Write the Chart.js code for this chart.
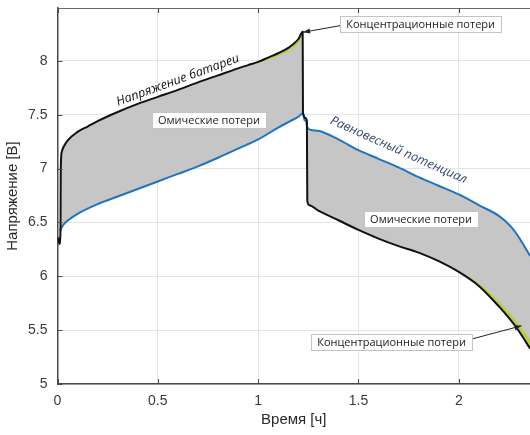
<!DOCTYPE html>
<html>
<head>
<meta charset="utf-8">
<script src="https://cdn.jsdelivr.net/npm/chart.js@4.4.1/dist/chart.umd.min.js"></script>
<style>
  html, body { margin: 0; padding: 0; background: #ffffff; }
  #wrap { width: 530px; height: 435px; position: relative; }
</style>
</head>
<body>
<div id="wrap"><canvas id="c"></canvas></div>
<script>
// ---- Data ----
const xTickValues = [0, 0.5, 1, 1.5, 2];
const yTickValues = [5, 5.5, 6, 6.5, 7, 7.5, 8];

// Battery voltage (black)
const timeBatt = [0.004, 0.008, 0.011, 0.013, 0.015, 0.016, 0.018, 0.022, 0.03, 0.05, 0.1, 0.15, 0.2, 0.3, 0.4, 0.5, 0.6, 0.7, 0.8, 0.9, 0.95, 1.0, 1.05, 1.1, 1.15, 1.2, 1.222, 1.2235, 1.236, 1.243, 1.245, 1.255, 1.3, 1.4, 1.5, 1.6, 1.7, 1.8, 1.9, 2.0, 2.1, 2.2, 2.26, 2.3, 2.355];
const voltBatt = [6.36, 6.31, 6.30, 6.34, 6.45, 6.90, 7.10, 7.16, 7.20, 7.26, 7.34, 7.39, 7.44, 7.525, 7.60, 7.665, 7.73, 7.80, 7.865, 7.93, 7.96, 7.99, 8.03, 8.07, 8.12, 8.20, 8.27, 7.52, 7.47, 7.44, 6.70, 6.66, 6.61, 6.52, 6.43, 6.35, 6.28, 6.22, 6.14, 6.04, 5.91, 5.72, 5.59, 5.49, 5.33];

// Equilibrium potential (blue)
const timeEq = [0.0125, 0.02, 0.03, 0.06, 0.1, 0.2, 0.3, 0.4, 0.5, 0.6, 0.7, 0.8, 0.9, 1.0, 1.1, 1.16, 1.2, 1.222, 1.226, 1.231, 1.24, 1.244, 1.26, 1.3, 1.4, 1.5, 1.6, 1.7, 1.8, 1.9, 2.0, 2.1, 2.2, 2.26, 2.3, 2.355];
const voltEq = [6.42, 6.45, 6.48, 6.53, 6.58, 6.67, 6.74, 6.81, 6.88, 6.95, 7.02, 7.10, 7.185, 7.27, 7.38, 7.44, 7.48, 7.51, 7.50, 7.45, 7.44, 7.39, 7.36, 7.35, 7.27, 7.17, 7.09, 7.01, 6.92, 6.84, 6.76, 6.66, 6.56, 6.46, 6.36, 6.19];

// Concentration-loss boundaries (green bands next to the battery voltage)
const timeConcCharge = [0.95, 1.0, 1.05, 1.1, 1.15, 1.2, 1.222];
const voltConcCharge = [7.955, 7.98, 8.01, 8.045, 8.09, 8.16, 8.23];
const timeConcDischarge = [2.0, 2.1, 2.2, 2.26, 2.3, 2.355];
const voltConcDischarge = [6.05, 5.935, 5.765, 5.645, 5.55, 5.41];

const toPts = (xs, ys) => xs.map((v, i) => ({ x: v, y: ys[i] }));

// ---- Decorations plugin: inward ticks, top border, text boxes, arrows, rotated labels ----
const decor = {
  id: 'decor',
  afterDatasetsDraw(chart, args, opts) {
    const { ctx, chartArea: a, scales: { x, y } } = chart;
    ctx.save();
    const seg = (x1, y1, x2, y2) => { ctx.beginPath(); ctx.moveTo(x1, y1); ctx.lineTo(x2, y2); ctx.stroke(); };
    // top border
    ctx.strokeStyle = '#6a6a6a'; ctx.lineWidth = 1;
    seg(a.left, a.top + 0.5, a.right, a.top + 0.5);
    // inward ticks
    ctx.strokeStyle = '#4a4a4a'; ctx.lineWidth = 1;
    x.ticks.forEach(t => {
      const px = Math.round(x.getPixelForValue(t.value)) + 0.5;
      seg(px, a.bottom, px, a.bottom - 5);
      seg(px, a.top, px, a.top + 5);
    });
    y.ticks.forEach(t => {
      const py = Math.round(y.getPixelForValue(t.value)) + 0.5;
      seg(a.left, py, a.left + 5, py);
    });
    // arrows
    (opts.arrows || []).forEach(ar => {
      const x1 = x.getPixelForValue(ar.from[0]), y1 = y.getPixelForValue(ar.from[1]);
      const x2 = x.getPixelForValue(ar.to[0]), y2 = y.getPixelForValue(ar.to[1]);
      ctx.strokeStyle = '#222'; ctx.fillStyle = '#222'; ctx.lineWidth = 1;
      seg(x1, y1, x2, y2);
      const ang = Math.atan2(y2 - y1, x2 - x1), L = 7, W = 2.6;
      ctx.beginPath();
      ctx.moveTo(x2, y2);
      ctx.lineTo(x2 - L * Math.cos(ang) + W * Math.sin(ang), y2 - L * Math.sin(ang) - W * Math.cos(ang));
      ctx.lineTo(x2 - L * Math.cos(ang) - W * Math.sin(ang), y2 - L * Math.sin(ang) + W * Math.cos(ang));
      ctx.closePath(); ctx.fill();
    });
    // text boxes
    (opts.boxes || []).forEach(b => {
      const cx = x.getPixelForValue(b.at[0]), cy = y.getPixelForValue(b.at[1]);
      ctx.font = '11px "Open Sans", sans-serif';
      const w = ctx.measureText(b.text).width + 12, h = 16;
      ctx.fillStyle = '#ffffff';
      ctx.fillRect(Math.round(cx - w / 2) + 0.5, Math.round(cy - h / 2) + 0.5, Math.round(w), h);
      ctx.strokeStyle = '#c4c4c4'; ctx.lineWidth = 1;
      ctx.strokeRect(Math.round(cx - w / 2) + 0.5, Math.round(cy - h / 2) + 0.5, Math.round(w), h);
      ctx.fillStyle = '#222';
      ctx.textAlign = 'center'; ctx.textBaseline = 'middle';
      ctx.fillText(b.text, cx, cy + 0.5);
    });
    // rotated italic labels
    (opts.labels || []).forEach(l => {
      const cx = x.getPixelForValue(l.at[0]), cy = y.getPixelForValue(l.at[1]);
      ctx.save();
      ctx.translate(cx, cy);
      ctx.rotate(l.angle * Math.PI / 180);
      ctx.font = 'italic 12.5px "Open Sans", sans-serif';
      ctx.fillStyle = l.color;
      ctx.textAlign = 'center'; ctx.textBaseline = 'middle';
      ctx.fillText(l.text, 0, 0);
      ctx.restore();
    });
    ctx.restore();
  }
};

const fmt = v => String(v);

new Chart(document.getElementById('c'), {
  type: 'line',
  data: {
    datasets: [
      { label: 'Напряжение батареи', data: toPts(timeBatt, voltBatt), borderColor: '#111111', borderWidth: 2, pointRadius: 0, fill: false, cubicInterpolationMode: 'monotone' },
      { label: 'Концентрационные потери (заряд)', data: toPts(timeConcCharge, voltConcCharge), borderColor: 'rgba(0,0,0,0)', borderWidth: 0, pointRadius: 0, fill: { target: 0 }, backgroundColor: '#b3d23c', cubicInterpolationMode: 'monotone' },
      { label: 'Концентрационные потери (разряд)', data: toPts(timeConcDischarge, voltConcDischarge), borderColor: 'rgba(0,0,0,0)', borderWidth: 0, pointRadius: 0, fill: { target: 0 }, backgroundColor: '#b3d23c', cubicInterpolationMode: 'monotone' },
      { label: 'Равновесный потенциал', data: toPts(timeEq, voltEq), borderColor: '#1f75bd', borderWidth: 2, pointRadius: 0, fill: { target: 0 }, backgroundColor: '#c6c6c6', cubicInterpolationMode: 'monotone' }
    ]
  },
  options: {
    responsive: true,
    maintainAspectRatio: false,
    animation: false,
    layout: { padding: { top: 8, right: 0, bottom: 0, left: 0 } },
    plugins: {
      legend: { display: false },
      tooltip: { enabled: false },
      decor: {
        boxes: [
          { text: 'Концентрационные потери', at: [1.81, 8.34] },
          { text: 'Омические потери', at: [0.755, 7.45] },
          { text: 'Омические потери', at: [1.812, 6.53] },
          { text: 'Концентрационные потери', at: [1.665, 5.39] }
        ],
        arrows: [
          { from: [1.42, 8.33], to: [1.224, 8.265] },
          { from: [2.05, 5.41], to: [2.312, 5.54] }
        ],
        labels: [
          { text: 'Напряжение батареи', at: [0.60, 7.82], angle: -20, color: '#111111' },
          { text: 'Равновесный потенциал', at: [1.70, 7.17], angle: 24, color: '#33476e' }
        ]
      }
    },
    scales: {
      x: {
        type: 'linear', min: 0, max: 2.355,
        afterFit: s => { s.height = 51; s.paddingLeft = 0; s.paddingRight = 0; },
        afterBuildTicks: s => { s.ticks = xTickValues.map(v => ({ value: v })); },
        grid: { color: '#e4e4e4', drawTicks: false, lineWidth: 1 },
        border: { color: '#4a4a4a', width: 1.5 },
        ticks: { padding: 9, color: '#3a3a3a', font: { family: '"Liberation Sans", Arial, sans-serif', size: 14 }, maxRotation: 0, callback: fmt },
        title: { display: true, text: 'Время [ч]', color: '#2a2a2a', font: { family: '"Liberation Sans", Arial, sans-serif', size: 15 }, padding: { top: 2, bottom: 6 } }
      },
      y: {
        type: 'linear', min: 5, max: 8.49,
        afterFit: s => { s.width = 57.5; s.paddingTop = 0; s.paddingBottom = 0; },
        afterBuildTicks: s => { s.ticks = yTickValues.map(v => ({ value: v })); },
        grid: { color: '#e4e4e4', drawTicks: false, lineWidth: 1 },
        border: { color: '#4a4a4a', width: 1.5 },
        ticks: { padding: 10, color: '#3a3a3a', font: { family: '"Liberation Sans", Arial, sans-serif', size: 14 }, callback: fmt },
        title: { display: true, text: 'Напряжение [В]', color: '#2a2a2a', font: { family: '"Liberation Sans", Arial, sans-serif', size: 15 }, padding: { top: 4, bottom: 0 } }
      }
    }
  },
  plugins: [decor]
});
</script>
</body>
</html>
